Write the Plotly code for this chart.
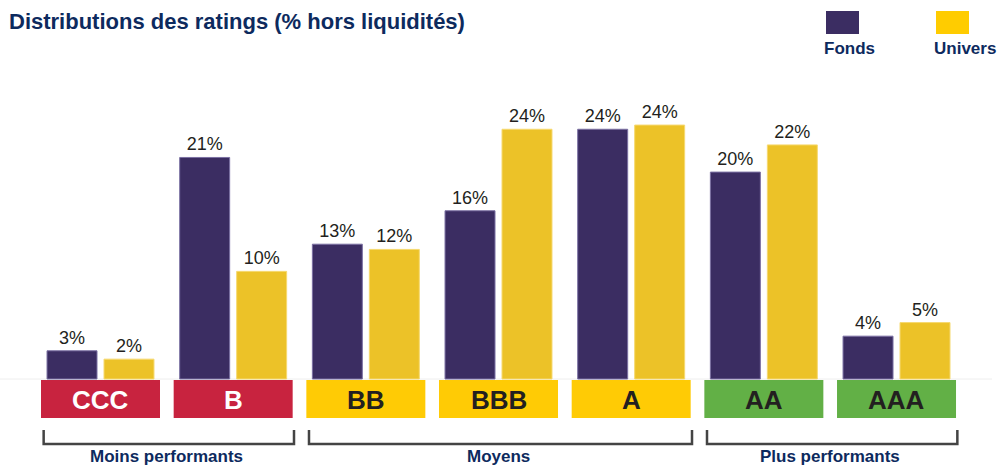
import plotly.graph_objects as go

# ---- data ----
categories = ["CCC", "B", "BB", "BBB", "A", "AA", "AAA"]
fonds = [2.7, 21.2, 12.9, 16.1, 23.9, 19.8, 4.1]
univers = [1.9, 10.3, 12.4, 23.9, 24.3, 22.4, 5.4]
category_colors = ["#c8233f", "#c8233f", "#ffcb05", "#ffcb05", "#ffcb05", "#62b046", "#62b046"]
category_text_colors = ["#ffffff", "#ffffff", "#231f20", "#231f20", "#231f20", "#231f20", "#231f20"]
groups = [("Moins performants", 0, 1), ("Moyens", 2, 4), ("Plus performants", 5, 6)]
title = "Distributions des ratings (% hors liquidités)"
series_names = ["Fonds", "Univers"]

# ---- geometry ----
W, H = 1000, 466
PPU = 10.45           # pixels per percent
BASE = 379            # pixel row of zero
CAT_PX = 132.67       # pixels per category
FIRST_PX = 100.5      # centre of first category

def ypx(p):
    return (BASE - p) / PPU

FONT = "Liberation Sans, Arial, sans-serif"
NAVY = "#0d2a5e"
FONDS_C = "#3b2d62"
UNIV_C = "#ecc228"

fig = go.Figure()
fig.add_trace(go.Bar(
    x=categories, y=fonds, name=series_names[0],
    marker=dict(color=FONDS_C, line=dict(color="#7b70a3", width=1)),
    texttemplate="%{y:.0f}%", textposition="outside", cliponaxis=False,
    textfont=dict(family=FONT, size=18, color="#231f20"),
))
fig.add_trace(go.Bar(
    x=categories, y=univers, name=series_names[1],
    marker=dict(color=UNIV_C, line=dict(color="#f6d970", width=1)),
    texttemplate="%{y:.0f}%", textposition="outside", cliponaxis=False,
    textfont=dict(family=FONT, size=18, color="#231f20"),
))

shapes = []
annotations = []
half = 59.5 / CAT_PX
# baseline
shapes.append(dict(type="line", xref="paper", yref="y", x0=0, x1=992 / W, y0=0, y1=0,
                   line=dict(color="#eeeeee", width=1), layer="below"))
# category boxes
for i, c in enumerate(categories):
    shapes.append(dict(type="rect", xref="x", yref="y", x0=i - half, x1=i + half,
                       y0=ypx(380), y1=ypx(418), fillcolor=category_colors[i],
                       line=dict(width=0), layer="above"))
    annotations.append(dict(x=i, y=ypx(399.5), xref="x", yref="y", text="<b>%s</b>" % c,
                            showarrow=False, font=dict(family=FONT, size=26,
                                                       color=category_text_colors[i])))
# brackets
for label, a, b in groups:
    xl, xr = a - half + 0.02, b + half + 0.01
    shapes.append(dict(type="path", xref="x", yref="y",
                       path="M %f,%f L %f,%f L %f,%f L %f,%f" % (xl, ypx(430), xl, ypx(444), xr, ypx(444), xr, ypx(430)),
                       line=dict(color="#444444", width=2.5)))
    annotations.append(dict(x=(a + b) / 2, y=ypx(445), xref="x", yref="y", yanchor="top",
                            text="<b>%s</b>" % label, showarrow=False,
                            font=dict(family=FONT, size=17, color=NAVY)))

# title
annotations.append(dict(x=7 / W, y=1 - 22 / H, xref="paper", yref="paper", xanchor="left", yanchor="middle",
                        text="<b>%s</b>" % title, showarrow=False,
                        font=dict(family=FONT, size=22, color=NAVY)))
# legend
legend_items = [(series_names[0], "#3b2d62", 826, 849), (series_names[1], "#ffcc00", 936, 965)]
for name, col, sx, tx in legend_items:
    shapes.append(dict(type="rect", xref="paper", yref="paper", x0=sx / W, x1=(sx + 33) / W,
                       y0=1 - 34 / H, y1=1 - 11 / H, fillcolor=col, line=dict(width=0)))
    annotations.append(dict(x=tx / W, y=1 - 48.5 / H, xref="paper", yref="paper", xanchor="center",
                            yanchor="middle", text="<b>%s</b>" % name, showarrow=False,
                            font=dict(family=FONT, size=17, color=NAVY)))

fig.update_layout(
    width=W, height=H,
    margin=dict(l=0, r=0, t=0, b=0),
    paper_bgcolor="white", plot_bgcolor="white",
    barmode="group", bargap=0.141, bargroupgap=0.123,
    showlegend=False,
    xaxis=dict(range=[-FIRST_PX / CAT_PX, (W - FIRST_PX) / CAT_PX], showticklabels=False,
               showgrid=False, zeroline=False, showline=False, ticks=""),
    yaxis=dict(range=[-(H - BASE) / PPU, BASE / PPU], showticklabels=False,
               showgrid=False, zeroline=False, showline=False, ticks=""),
    shapes=shapes, annotations=annotations,
)

fig.write_html("out.html", config={"displayModeBar": False},
               post_script="document.body.style.margin='0px';document.body.style.overflow='hidden';")
